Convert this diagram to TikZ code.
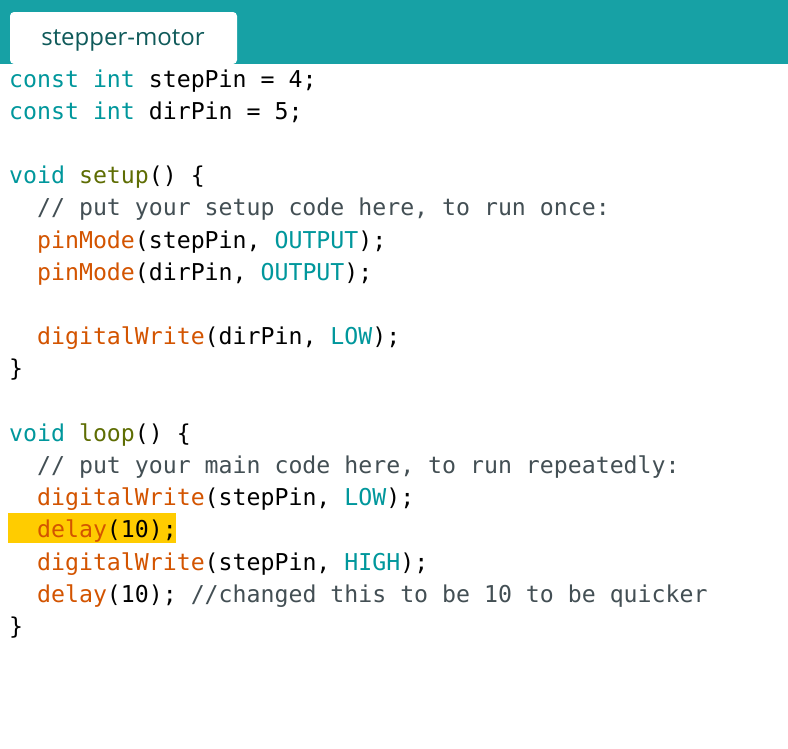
\documentclass[tikz,border=0pt]{standalone}
\usepackage{fontspec}
\setmonofont{DejaVu Sans Mono}
\setsansfont{Open Sans}
\usepackage{tikz}
\usetikzlibrary{positioning}
\definecolor{headteal}{HTML}{17A1A5}
\definecolor{tabtext}{HTML}{0F5A5A}
\definecolor{kwteal}{HTML}{00979C}
\definecolor{fnolive}{HTML}{5E6D03}
\definecolor{fnorange}{HTML}{D35400}
\definecolor{cmgray}{HTML}{434F54}
\definecolor{hlyellow}{HTML}{FFCC00}
\newcommand{\kwd}[1]{\textcolor{kwteal}{#1}}
\newcommand{\fno}[1]{\textcolor{fnolive}{#1}}
\newcommand{\fnr}[1]{\textcolor{fnorange}{#1}}
\newcommand{\cmt}[1]{\textcolor{cmgray}{#1}}
\begin{document}
\begin{tikzpicture}[x=1pt,y=-1pt]
    \tikzstyle{codeline} = [anchor=base west, inner sep=0pt, font=\ttfamily\fontsize{23.2}{23.2}\selectfont]
\tikzstyle{tabtitle} = [inner sep=0pt, font=\sffamily\fontsize{24}{24}\selectfont, text=tabtext]
    \useasboundingbox (0,0) rectangle (788,748);
    \fill[white] (0,0) rectangle (788,748);
    \fill[headteal] (0,0) rectangle (788,64);
    \fill[white, rounded corners=4pt] (10,64) -- (10,12) -- (237,12) -- (237,64) -- cycle;
    \fill[hlyellow] (8,513) rectangle (176,543);
    \node (tab) [tabtitle] at (123,40) {stepper-motor};

\node (l1) [codeline] at (9,87) {\kwd{const} \kwd{int} stepPin = 4;};
\node (l2) [codeline] at (9,119.2) {\kwd{const} \kwd{int} dirPin = 5;};
\node (l4) [codeline] at (9,183.6) {\kwd{void} \fno{setup}() \{};
\node (l5) [codeline] at (9,215.8) {\ \ \cmt{// put your setup code here, to run once:}};
\node (l6) [codeline] at (9,248) {\ \ \fnr{pinMode}(stepPin, \kwd{OUTPUT});};
\node (l7) [codeline] at (9,280.2) {\ \ \fnr{pinMode}(dirPin, \kwd{OUTPUT});};
\node (l9) [codeline] at (9,344.6) {\ \ \fnr{digitalWrite}(dirPin, \kwd{LOW});};
\node (l10) [codeline] at (9,376.8) {\}};
\node (l12) [codeline] at (9,441.2) {\kwd{void} \fno{loop}() \{};
\node (l13) [codeline] at (9,473.4) {\ \ \cmt{// put your main code here, to run repeatedly:}};
\node (l14) [codeline] at (9,505.6) {\ \ \fnr{digitalWrite}(stepPin, \kwd{LOW});};
\node (l15) [codeline] at (9,537.8) {\ \ \fnr{delay}(10);};
\node (l16) [codeline] at (9,570) {\ \ \fnr{digitalWrite}(stepPin, \kwd{HIGH});};
\node (l17) [codeline] at (9,602.2) {\ \ \fnr{delay}(10); \cmt{//changed this to be 10 to be quicker}};
\node (l18) [codeline] at (9,634.4) {\}};
  \end{tikzpicture}
\end{document}
